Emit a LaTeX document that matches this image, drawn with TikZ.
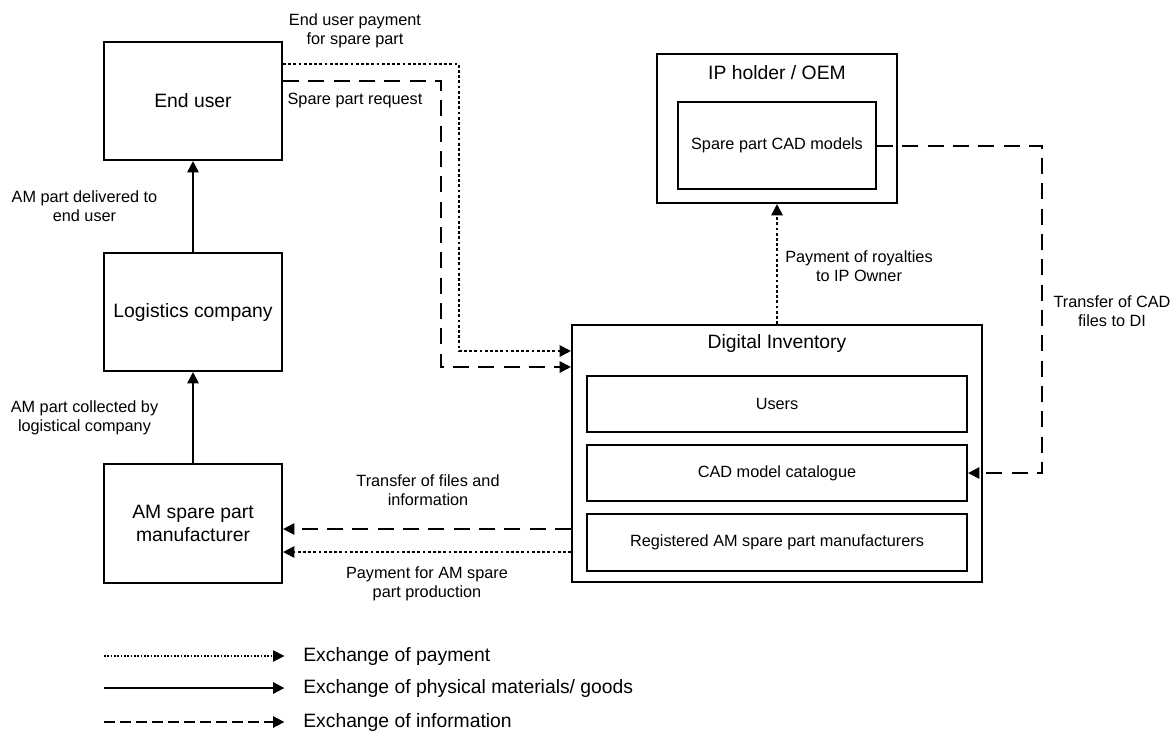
\documentclass[tikz,border=0pt]{standalone}
\usepackage{fontspec}
\setmainfont{Liberation Sans}
\usetikzlibrary{arrows.meta}
\begin{document}
\begin{tikzpicture}[x=0.75pt,y=-0.75pt,
  box/.style={draw, line width=1.6pt, inner sep=0pt, align=center,
    font=\fontsize{14.5pt}{17pt}\selectfont},
  inbox/.style={draw, line width=1.6pt, inner sep=0pt, align=center,
    font=\fontsize{12.2pt}{14.3pt}\selectfont},
  title/.style={inner sep=0pt, font=\fontsize{14.5pt}{17pt}\selectfont},
  lbl/.style={inner sep=0pt, align=center, font=\fontsize{12.2pt}{14.3pt}\selectfont},
  keytext/.style={inner sep=0pt, anchor=west, font=\fontsize{14.5pt}{17pt}\selectfont},
  conn/.style={line width=1.5pt, -{Triangle[length=8.5pt,width=8.5pt]}},
  goods/.style={conn},
  pay/.style={conn, dash pattern=on 2pt off 1.9pt},
  info/.style={conn, dash pattern=on 12pt off 7pt},
  legendinfo/.style={conn, line width=1.3pt, dash pattern=on 8.5pt off 3.5pt},
  legendpay/.style={conn, line width=1.2pt, dash pattern=on 1.3pt off 1.2pt}]
\useasboundingbox (0,0) rectangle (1176,735);

% left column: the physical chain
\node[box, minimum width=133.5pt, minimum height=88.5pt] (enduser) at (193,101) {End user};
\node[box, minimum width=133.5pt, minimum height=88.5pt] (logistics) at (193,312) {Logistics company};
\node[box, minimum width=133.5pt, minimum height=89.25pt] (amspm) at (193,523.5) {AM spare part\\manufacturer};

% IP holder with its CAD models
\node[box, minimum width=180pt, minimum height=111.75pt] (ip) at (777,128.5) {};
\node[title] (ipt) at (777,73) {IP holder / OEM};
\node[inbox, minimum width=148.5pt, minimum height=65.25pt] (cadmodels) at (777,145.5) {Spare part CAD models};

% digital inventory and its parts
\node[box, minimum width=307.5pt, minimum height=192.75pt] (di) at (777,453.5) {};
\node[title] (dit) at (777,343) {Digital Inventory};
\node[inbox, minimum width=285pt, minimum height=42pt] (users) at (777,404) {Users};
\node[inbox, minimum width=285pt, minimum height=42pt] (catalogue) at (777,473) {CAD model catalogue};
\node[inbox, minimum width=285pt, minimum height=42.75pt] (registered) at (777,542.5) {Registered AM spare part manufacturers};

% goods flow
\draw[goods] (amspm.north) -- (logistics.south);
\draw[goods] (logistics.north) -- (enduser.south);

% end user to digital inventory
\coordinate (payA) at (459,64);
\coordinate (payB) at (459,351);
\draw[pay] (enduser.east |- payA) -- (payA) -- (payB) -- (di.west |- payB);
\coordinate (reqA) at (441,81);
\coordinate (reqB) at (441,367);
\draw[info] (enduser.east |- reqA) -- (reqA) -- (reqB) -- (di.west |- reqB);

% royalties and CAD transfer
\draw[pay] (di.north) -- (ip.south);
\coordinate (cadA) at (1042,145.5);
\coordinate (cadB) at (1042,473);
\draw[info] (cadmodels.east) -- (cadA) -- (cadB) -- (catalogue.east);

% digital inventory to manufacturer
\coordinate (fileY) at (0,529);
\coordinate (prodY) at (0,552);
\draw[info] (di.west |- fileY) -- (amspm.east |- fileY);
\draw[pay] (di.west |- prodY) -- (amspm.east |- prodY);

% connector labels
\node[lbl] (l1) at (355,30.5) {End user payment\\for spare part};
\node[lbl] (l2) at (355,101) {Spare part request};
\node[lbl] (l3) at (84.5,206.5) {AM part delivered to\\end user};
\node[lbl] (l4) at (84.5,417.5) {AM part collected by\\logistical company};
\node[lbl] (l5) at (859,266) {Payment of royalties\\to IP Owner};
\node[lbl] (l6) at (1112,311.5) {Transfer of CAD\\files to DI};
\node[lbl] (l7) at (428,490.5) {Transfer of files and\\information};
\node[lbl] (l8) at (427,583.5) {Payment for AM spare\\part production};

% legend
\node[keytext] (k1) at (303,656) {Exchange of payment};
\node[keytext] (k2) at (303,688) {Exchange of physical materials/ goods};
\node[keytext] (k3) at (303,722) {Exchange of information};
\coordinate (k1s) at (104,656);
\coordinate (k2s) at (104,688);
\coordinate (k3s) at (104,722);
\draw[legendpay] (k1s) -- ([xshift=-14pt]k1.west);
\draw[goods] (k2s) -- ([xshift=-14pt]k2.west);
\draw[legendinfo] (k3s) -- ([xshift=-14pt]k3.west);
\end{tikzpicture}
\end{document}
